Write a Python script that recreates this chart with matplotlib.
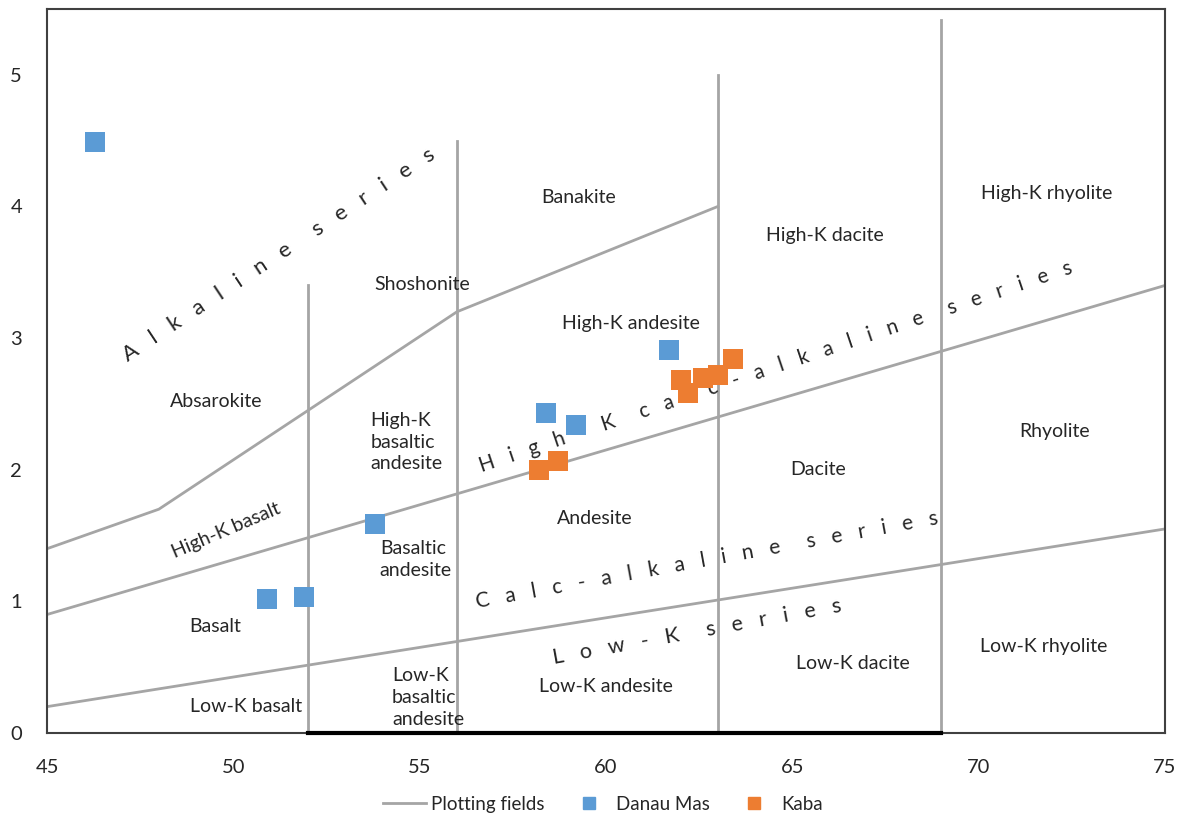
import matplotlib.pyplot as plt
from matplotlib.lines import Line2D

plt.rcParams['font.family'] = ['Lato', 'DejaVu Sans']

# SiO2 (wt%) vs K2O (wt%) samples
danau_sio2 = [46.3, 50.9, 51.9, 53.8, 58.4, 59.2, 61.7]
danau_k2o = [4.49, 1.02, 1.03, 1.59, 2.43, 2.34, 2.91]
kaba_sio2 = [58.2, 58.7, 62.0, 62.2, 62.6, 63.0, 63.4]
kaba_k2o = [2.00, 2.07, 2.68, 2.58, 2.70, 2.72, 2.84]

# field boundaries
alk_x = [45, 48, 56, 63]
alk_y = [1.4, 1.7, 3.2, 4.0]
highk_x = [45, 75]
highk_y = [0.9, 3.4]
lowk_x = [45, 75]
lowk_y = [0.2, 1.55]
div_x = [52, 56, 63, 69]
div_top = [3.4, 4.5, 5.0, 5.42]

# rock names (x, y, text, ha)
field_names = [
    (59.27, 4.07, "Banakite", "center"),
    (65.87, 3.78, "High-K dacite", "center"),
    (71.83, 4.10, "High-K rhyolite", "center"),
    (55.06, 3.41, "Shoshonite", "center"),
    (60.67, 3.11, "High-K andesite", "center"),
    (49.53, 2.52, "Absarokite", "center"),
    (53.67, 2.21, "High-K\nbasaltic\nandesite", "left"),
    (65.69, 2.00, "Dacite", "center"),
    (72.05, 2.29, "Rhyolite", "center"),
    (59.70, 1.63, "Andesite", "center"),
    (53.93, 1.32, "Basaltic\nandesite", "left"),
    (49.51, 0.81, "Basalt", "center"),
    (50.34, 0.20, "Low-K basalt", "center"),
    (54.26, 0.27, "Low-K\nbasaltic\nandesite", "left"),
    (60.00, 0.35, "Low-K andesite", "center"),
    (66.63, 0.53, "Low-K dacite", "center"),
    (71.75, 0.66, "Low-K rhyolite", "center"),
]

# series names (x, y, text, rotation, size)
series_names = [
    (51.22, 3.63, "Alkaline series", 33.5, 16),
    (64.55, 2.78, "High-K calc-alkaline series", 18.6, 14.8),
    (62.71, 1.31, "Calc-alkaline series", 10.3, 15),
    (62.44, 0.77, "Low-K series", 10.3, 15.5),
]

line_col = "#A5A5A5"
txt_col = "#262626"


def spaced(s):
    return "     ".join("   ".join(w) for w in s.split(" "))


fig = plt.figure(figsize=(11.82, 8.23), dpi=100)
ax = fig.add_axes([0.0398, 0.1094, 0.9458, 0.8796])

ax.plot(alk_x, alk_y, color=line_col, lw=2)
ax.plot(highk_x, highk_y, color=line_col, lw=2)
ax.plot(lowk_x, lowk_y, color=line_col, lw=2)
for x, top in zip(div_x, div_top):
    ax.plot([x, x], [0, top], color=line_col, lw=2)
ax.plot([52, 69], [0, 0], color="black", lw=3, clip_on=False, zorder=5)

ax.scatter(danau_sio2, danau_k2o, marker="s", s=207, color="#5B9BD5",
           linewidths=0, zorder=4)
ax.scatter(kaba_sio2, kaba_k2o, marker="s", s=207, color="#ED7D31",
           linewidths=0, zorder=4)

for x, y, t, ha in field_names:
    ax.text(x, y, t, ha=ha, va="center", fontsize=14, color=txt_col,
            linespacing=1.35, zorder=3)
ax.text(49.8, 1.54, "High-K basalt", ha="center", va="center", fontsize=14,
        color=txt_col, rotation=23)
for x, y, t, r, fs in series_names:
    ax.text(x, y, spaced(t), ha="center", va="center", fontsize=fs,
            color=txt_col, rotation=r, rotation_mode="anchor", zorder=3)

ax.set_xlim(45, 75)
ax.set_ylim(0, 5.5)
ax.set_xticks(range(45, 76, 5))
ax.set_yticks(range(0, 6))
ax.tick_params(length=0, labelsize=14.5, labelcolor=txt_col)
ax.tick_params(axis="y", pad=18)
ax.tick_params(axis="x", pad=19)
for sp in ax.spines.values():
    sp.set_color("#404040")
    sp.set_linewidth(1.5)

handles = [
    Line2D([], [], color=line_col, lw=2),
    Line2D([], [], marker="s", ls="", color="#5B9BD5", markersize=9),
    Line2D([], [], marker="s", ls="", color="#ED7D31", markersize=9),
]
fig.legend(handles, ["Plotting fields", "Danau Mas", "Kaba"], loc="lower center",
           ncol=3, frameon=False, fontsize=13.5, bbox_to_anchor=(0.51, -0.008),
           handlelength=2.3, handletextpad=0.3, columnspacing=1.2,
           labelcolor=txt_col)

fig.savefig("out.png", dpi=100)
